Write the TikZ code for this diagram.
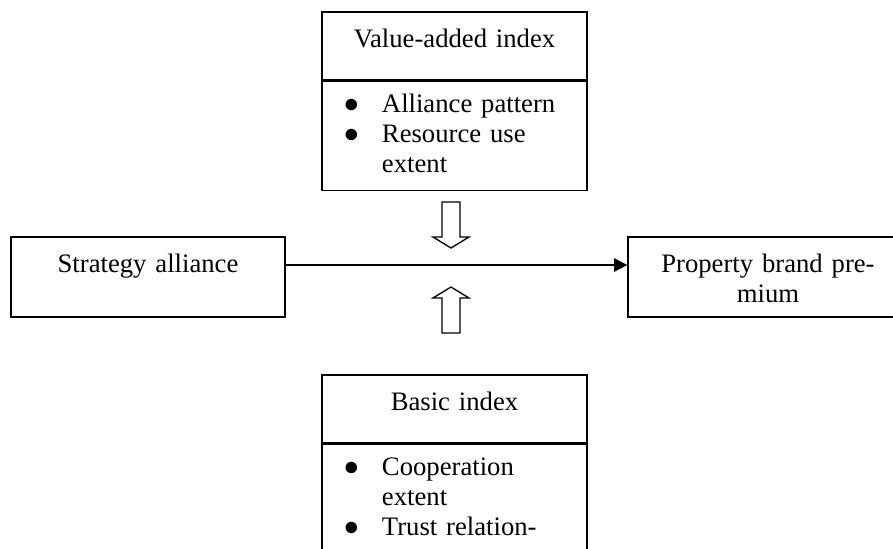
\documentclass[tikz,border=0pt]{standalone}
\usepackage{fontspec}
\setmainfont{Liberation Serif}
\usetikzlibrary{positioning,arrows.meta}
\tikzset{
  box/.style={draw, line width=0.6pt, inner sep=0pt, font=\fontsize{12}{13.5}\selectfont},
  head/.style={box, text width=119.25pt, align=center, text height=16pt, text depth=14.6pt},
  list/.style={box, text width=119.25pt, align=left, text height=14pt},
  side/.style={box, align=center, text height=16pt, text depth=20pt},
  flow/.style={-{Triangle[length=6pt,width=6pt]}, line width=0.9pt},
  hollow/.style={line width=0.6pt, line join=miter}
}
\newcommand{\blt}{\makebox[27pt][l]{\hspace*{9.6pt}●}}
\newcommand{\cnt}{\hspace*{27pt}}

\begin{document}
\begin{tikzpicture}[x=0.45pt,y=-0.45pt]
   \useasboundingbox (0,0) rectangle (893,548);
   \clip (0,0) rectangle (893,548);
   \begin{scope}
    \node[head] (valhead) at (454.5,46) {Value-added index};
    \node[list, text depth=35.05pt, below=0pt of valhead] (vallist)
      {\blt Alliance pattern\\ \blt Resource use\\ \cnt extent};
   \end{scope}
   \begin{scope}
    \node[head] (bashead) at (454.5,409) {Basic index};
    \node[list, text depth=70pt, below=0pt of bashead] (baslist)
      {\blt Cooperation\\ \cnt extent\\ \blt Trust relation-};
   \end{scope}
   \node[side, text width=123.3pt] (alliance) at (148,277) {Strategy alliance};
   \node[side, text width=126pt] (premium) at (768,277) {Property brand pre-\\mium};
   \draw[flow] ([yshift=5.4pt]alliance.east) -- ([yshift=5.4pt]premium.west);
   \foreach \y/\s in {202/1,333/-1} {
    \begin{scope}[shift={(451,\y)},yscale=\s]
     \draw[hollow] (-9,0) -- (9,0) -- (9,35) -- (18,35) -- (0,46) -- (-18,35) -- (-9,35) -- cycle;
    \end{scope}
   }
\end{tikzpicture}
\end{document}
